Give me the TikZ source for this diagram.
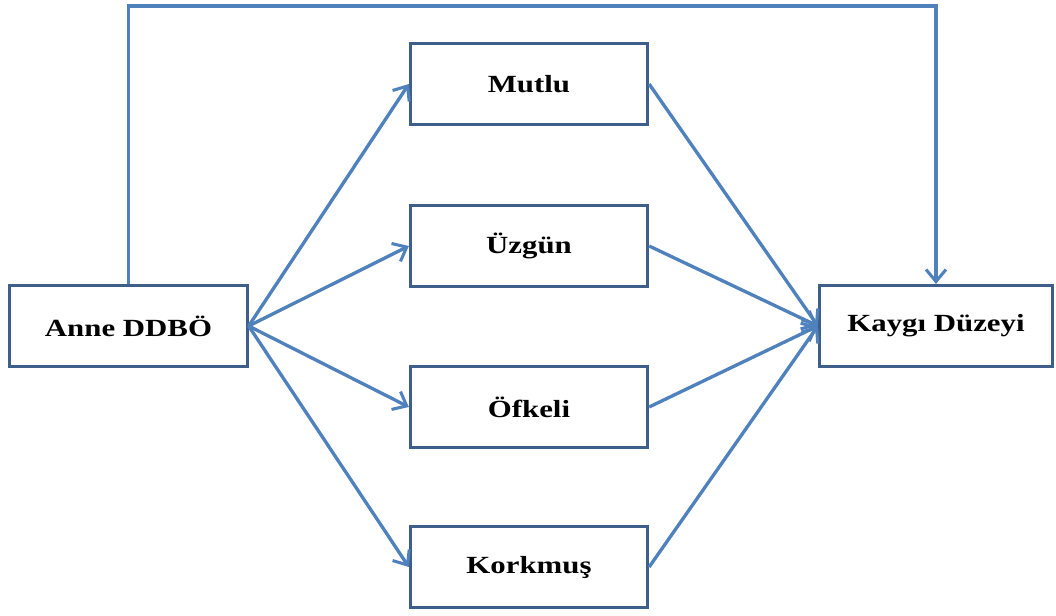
\documentclass[tikz,border=0pt]{standalone}
\usepackage{fontspec}
\setmainfont{Liberation Serif}[FakeStretch=1.25]
\usetikzlibrary{arrows.meta}
\definecolor{linkblue}{HTML}{4F81BD}
\definecolor{boxline}{HTML}{3E5F8A}

\begin{document}
\begin{tikzpicture}[x=0.75pt,y=-0.75pt,
    kutu/.style={draw=boxline,line width=2.2pt,minimum width=178pt,minimum height=61pt,font=\bfseries\fontsize{18.5}{20}\selectfont},
    ok/.style={draw=linkblue,line width=2.5pt,-{Straight Barb[length=9pt,width=15pt,line width=2.3pt]}}]
            \useasboundingbox (0,0) rectangle (1056,615);
            \node [kutu] (anne) at (128.5,326) {Anne DDBÖ};
            \node [kutu] (mutlu) at (529,84) {Mutlu};
            \node [kutu] (uzgun) at (529,246) {Üzgün};
            \node [kutu] (ofkeli) at (529,407) {Öfkeli};
            \node [kutu] (korkmus) at (529,567) {Korkmuş};
            \node [kutu,minimum width=175pt] (kaygi) at (936,326) {Kaygı Düzeyi};
            \coordinate (ust) at (0,6);
            % dogrudan yol
            \draw [ok] (anne.north) -- (anne.north |- ust) -| (kaygi.north);
            \foreach \m in {mutlu,uzgun,ofkeli,korkmus}{
                \draw [ok] (anne.east) -- (\m.west);
                \draw [ok] (\m.east) -- (kaygi.west);
            }
        \end{tikzpicture}
\end{document}
